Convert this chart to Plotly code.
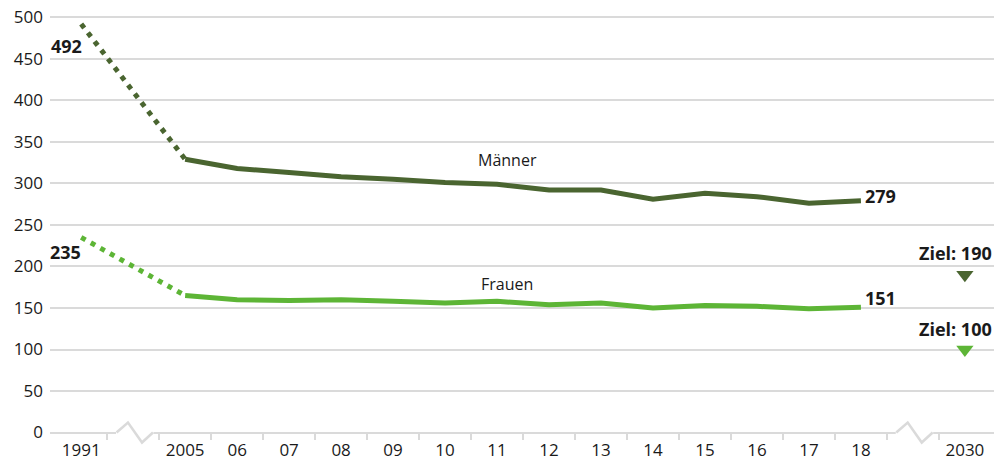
import plotly.graph_objects as go

# ---- data ----
tick_labels = ["1991", "", "2005", "06", "07", "08", "09", "10", "11", "12",
               "13", "14", "15", "16", "17", "18", "", "2030"]
maenner = [492, None, 329, 318, 313, 308, 305, 301, 299, 292, 292, 281, 288, 284, 276, 279, None, None]
frauen = [235, None, 165, 160, 159, 160, 158, 156, 158, 154, 156, 150, 153, 152, 149, 151, None, None]
ziel_maenner = 190
ziel_frauen = 100
y_ticks = [0, 50, 100, 150, 200, 250, 300, 350, 400, 450, 500]

DARK = "#4a6530"
LIGHT = "#5db536"
GRID = "#dadada"
TXT = "#1a1a1a"
FONT = "Open Sans"

pos = list(range(len(tick_labels)))
i91 = tick_labels.index("1991")
i05 = tick_labels.index("2005")
i18 = tick_labels.index("18")
i30 = tick_labels.index("2030")

fig = go.Figure()

def add_series(vals, color):
    # dotted connection 1991 -> 2005
    fig.add_trace(go.Scatter(x=[pos[i91], pos[i05]], y=[vals[i91], vals[i05]], mode="lines",
                             line=dict(color=color, width=5, dash="5px,6px"),
                             hoverinfo="skip", showlegend=False))
    xs = [pos[i] for i in range(i05, i18 + 1)]
    ys = [vals[i] for i in range(i05, i18 + 1)]
    fig.add_trace(go.Scatter(x=xs, y=ys, mode="lines",
                             line=dict(color=color, width=5),
                             showlegend=False))

add_series(maenner, DARK)
add_series(frauen, LIGHT)

fig.add_trace(go.Scatter(x=[pos[i30]], y=[ziel_maenner], mode="markers",
                         marker=dict(symbol="triangle-down", size=15, color=DARK),
                         showlegend=False))
fig.add_trace(go.Scatter(x=[pos[i30]], y=[ziel_frauen], mode="markers",
                         marker=dict(symbol="triangle-down", size=15, color=LIGHT),
                         showlegend=False))

# annotations
bold = dict(family=FONT, size=18, color=TXT, weight="bold")
reg = dict(family=FONT, size=16, color=TXT)
ann = [
    dict(x=pos[i91], y=maenner[i91], text="<b>%d</b>" % maenner[i91], xanchor="right", yanchor="middle",
         xshift=3, yshift=-22, font=bold),
    dict(x=pos[i91], y=frauen[i91], text="<b>%d</b>" % frauen[i91], xanchor="right", yanchor="middle",
         xshift=2, yshift=-15, font=bold),
    dict(x=pos[i18], y=maenner[i18], text="<b>%d</b>" % maenner[i18], xanchor="left", yanchor="middle",
         xshift=2, yshift=5, font=bold),
    dict(x=pos[i18], y=frauen[i18], text="<b>%d</b>" % frauen[i18], xanchor="left", yanchor="middle",
         xshift=2, yshift=9, font=bold),
    dict(x=pos[i30], y=ziel_maenner, text="<b>Ziel: %d</b>" % ziel_maenner, xanchor="right", yanchor="middle",
         xshift=29, yshift=22, font=bold),
    dict(x=pos[i30], y=ziel_frauen, text="<b>Ziel: %d</b>" % ziel_frauen, xanchor="right", yanchor="middle",
         xshift=29, yshift=21, font=bold),
    dict(x=8.2, y=328, text="Männer", xanchor="center", yanchor="middle", font=reg),
    dict(x=8.2, y=179, text="Frauen", xanchor="center", yanchor="middle", font=reg),
]
for a in ann:
    a["showarrow"] = False
fig.update_layout(annotations=ann)

# axis breaks on the baseline
shapes = []
for c in [1, 16]:
    shapes.append(dict(type="line", xref="x", yref="y", x0=c - 0.33, x1=c + 0.39, y0=0, y1=0,
                       line=dict(color="white", width=4), layer="above"))
    path = "M %f,0 L %f,12 L %f,-12 L %f,0" % (c - 0.32, c - 0.1, c + 0.17, c + 0.38)
    shapes.append(dict(type="path", xref="x", yref="y", path=path,
                       line=dict(color=GRID, width=2.5), layer="above"))
fig.update_layout(shapes=shapes)

ymin, ymax = -15, 510
fig.update_layout(
    width=1001, height=461,
    margin=dict(l=50, r=7, t=9, b=16, autoexpand=False),
    paper_bgcolor="white", plot_bgcolor="white",
    font=dict(family=FONT, size=17, color=TXT),
    xaxis=dict(range=[-0.6, 17.56], tickmode="array", tickvals=pos, ticktext=tick_labels,
               showgrid=False, zeroline=False, showline=False, ticks="", automargin=False,
               anchor="free", position=(0 - ymin) / (ymax - ymin),
               ticklabelstandoff=5,
               minor=dict(tickmode="array", tickvals=[p + 0.5 for p in pos[:-1]],
                          ticks="outside", ticklen=6, tickwidth=2, tickcolor=GRID, showgrid=False),
               tickfont=dict(family=FONT, size=17, color=TXT), fixedrange=True),
    yaxis=dict(range=[ymin, ymax], tickmode="array", tickvals=y_ticks, automargin=False,
               showgrid=True, gridcolor=GRID, gridwidth=2, zeroline=False, showline=False,
               ticks="", ticklabelstandoff=6,
               tickfont=dict(family=FONT, size=17, color=TXT), fixedrange=True),
)

fig.write_html("out.html", config={"displayModeBar": False},
               post_script="document.body.style.margin='0';document.body.style.overflow='hidden';")
